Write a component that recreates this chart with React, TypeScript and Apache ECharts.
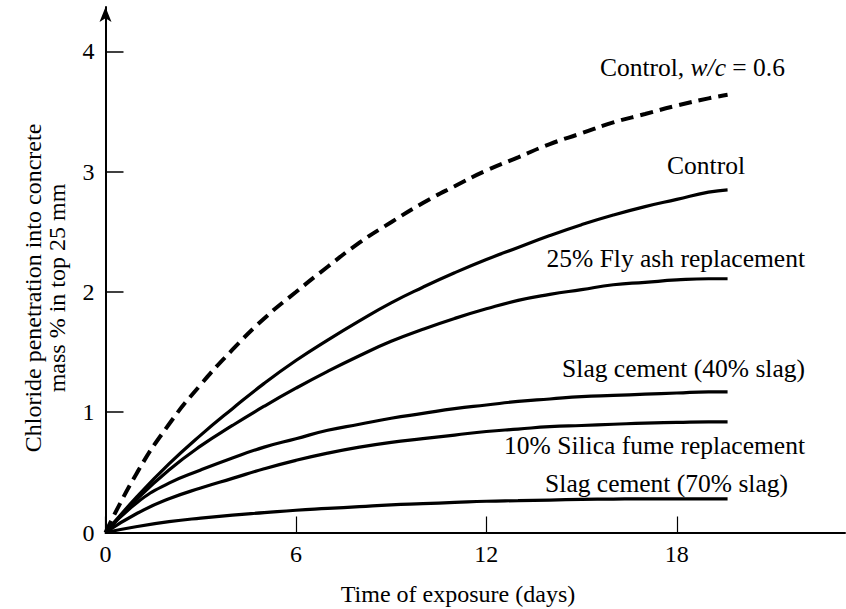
import React, { useEffect, useRef } from "react";
import * as echarts from "echarts";

const days = [0, 1, 2, 3, 4, 5, 6, 7, 8, 9, 10, 11, 12, 13, 14, 15, 16, 17, 18, 19, 19.6];

const controlWc06 = [0, 0.5, 0.9, 1.23, 1.52, 1.78, 2.0, 2.21, 2.41, 2.58, 2.74, 2.88, 3.01, 3.12, 3.23, 3.32, 3.41, 3.48, 3.55, 3.61, 3.64];
const control = [0, 0.3, 0.57, 0.81, 1.03, 1.24, 1.43, 1.6, 1.76, 1.91, 2.04, 2.16, 2.27, 2.37, 2.47, 2.56, 2.64, 2.71, 2.77, 2.83, 2.85];
const flyAsh = [0, 0.28, 0.52, 0.72, 0.89, 1.05, 1.2, 1.34, 1.47, 1.59, 1.69, 1.78, 1.86, 1.93, 1.98, 2.02, 2.06, 2.08, 2.1, 2.11, 2.11];
const slag40 = [0, 0.25, 0.41, 0.52, 0.62, 0.71, 0.78, 0.85, 0.9, 0.95, 0.99, 1.03, 1.06, 1.09, 1.11, 1.13, 1.14, 1.15, 1.16, 1.17, 1.17];
const silica = [0, 0.16, 0.28, 0.37, 0.45, 0.53, 0.6, 0.66, 0.71, 0.75, 0.78, 0.81, 0.84, 0.86, 0.88, 0.89, 0.9, 0.91, 0.915, 0.92, 0.92];
const slag70 = [0, 0.05, 0.09, 0.12, 0.145, 0.165, 0.185, 0.2, 0.215, 0.23, 0.24, 0.25, 0.26, 0.265, 0.27, 0.275, 0.278, 0.28, 0.28, 0.28, 0.28];

const xTicks = [0, 6, 12, 18];
const yTicks = [0, 1, 2, 3, 4];

const seriesLabels = [
  "Control, w/c = 0.6",
  "Control",
  "25% Fly ash replacement",
  "Slag cement (40% slag)",
  "10% Silica fume replacement",
  "Slag cement (70% slag)",
];

const FONT = "'Liberation Serif', 'Times New Roman', serif";

export default function App() {
  const ref = useRef<HTMLDivElement>(null);
  useEffect(() => {
    if (!ref.current) return;
    const chart = echarts.init(ref.current, null, { renderer: "svg" });
    const pair = (ys: number[]) => days.map((d, i) => [d, ys[i]]);
    const solid = (name: string, ys: number[]) => ({
      type: "line",
      name,
      data: pair(ys),
      smooth: 0.5,
      showSymbol: false,
      symbol: "none",
      lineStyle: { color: "#000", width: 3.2 },
    });
    const txt = (text: string, x: number, y: number, extra: any = {}) => ({
      type: "text",
      x,
      y,
      style: {
        text,
        font: `25.5px ${FONT}`,
        fill: "#000",
        align: "right",
        verticalAlign: "middle",
        ...extra,
      },
    });
    chart.setOption({
      animation: false,
      backgroundColor: "#fff",
      grid: { left: 105.5, right: 1, top: 7, bottom: 76.5 },
      xAxis: {
        type: "value",
        min: 0,
        max: 23.3,
        splitLine: { show: false },
        axisLine: { lineStyle: { color: "#000", width: 2 } },
        axisTick: {
          inside: true,
          length: 16,
          customValues: xTicks,
          lineStyle: { color: "#000", width: 1.2 },
        },
        axisLabel: {
          customValues: xTicks,
          margin: 9,
          color: "#000",
          fontFamily: FONT,
          fontSize: 24,
        },
      },
      yAxis: {
        type: "value",
        min: 0,
        max: 4.37,
        splitLine: { show: false },
        axisLine: {
          lineStyle: { color: "#000", width: 2 },
          symbol: ["none", "arrow"],
          symbolSize: [9, 15],
        },
        axisTick: {
          inside: true,
          length: 18,
          customValues: yTicks,
          lineStyle: { color: "#000", width: 1.5 },
        },
        axisLabel: {
          customValues: yTicks,
          margin: 11,
          color: "#000",
          fontFamily: FONT,
          fontSize: 24,
        },
      },
      series: [
        {
          type: "line",
          name: seriesLabels[0],
          data: pair(controlWc06),
          smooth: 0.5,
          showSymbol: false,
          symbol: "none",
          lineStyle: { color: "#000", width: 4, type: [13, 7] },
        },
        solid(seriesLabels[1], control),
        solid(seriesLabels[2], flyAsh),
        solid(seriesLabels[3], slag40),
        solid(seriesLabels[4], silica),
        solid(seriesLabels[5], slag70),
      ],
      graphic: [
        {
          type: "text",
          x: 785,
          y: 67,
          style: {
            text: "{a|Control, }{b|w/c}{a| = 0.6}",
            align: "right",
            verticalAlign: "middle",
            rich: {
              a: { fontFamily: FONT, fontSize: 25.5, fill: "#000" },
              b: { fontFamily: FONT, fontSize: 25.5, fontStyle: "italic", fill: "#000" },
            },
          },
        },
        txt(seriesLabels[1], 745, 165),
        txt(seriesLabels[2], 805, 258),
        txt(seriesLabels[3], 805, 368),
        txt(seriesLabels[4], 805, 445),
        txt(seriesLabels[5], 788, 483),
        txt("Time of exposure (days)", 458, 594, { align: "center", font: `24px ${FONT}` }),
        {
          type: "text",
          x: 45,
          y: 288,
          rotation: Math.PI / 2,
          style: {
            text: "Chloride penetration into concrete\nmass % in top 25 mm",
            font: `24px ${FONT}`,
            fill: "#000",
            align: "center",
            verticalAlign: "middle",
            lineHeight: 24,
          },
        },
      ],
    });
    return () => chart.dispose();
  }, []);
  return (
    <div
      ref={ref}
      style={{ position: "absolute", left: 0, top: 0, width: 846, height: 609 }}
    />
  );
}
